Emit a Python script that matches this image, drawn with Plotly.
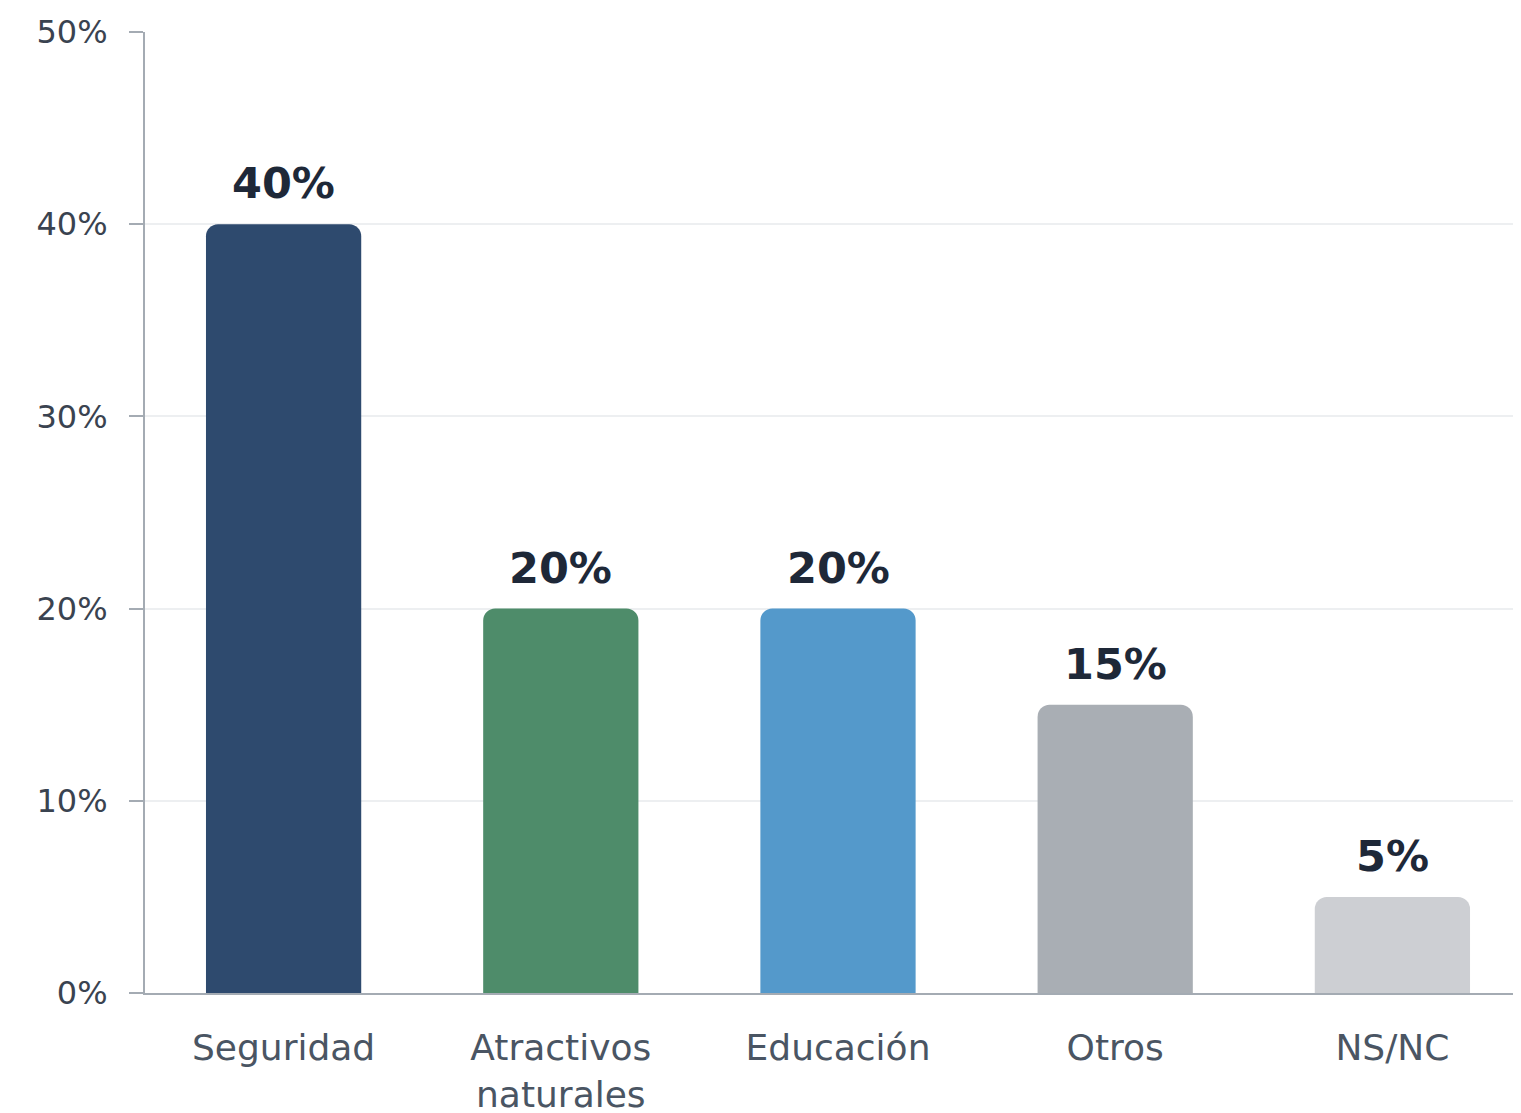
import plotly.graph_objects as go

categories = ["Seguridad", "Atractivos<br>naturales", "Educación", "Otros", "NS/NC"]
values = [40, 20, 20, 15, 5]
labels = ["40%", "20%", "20%", "15%", "5%"]
colors = ["#2E4A6E", "#4E8C6A", "#5499CB", "#A9AEB4", "#CDCFD3"]

y_ticks = [0, 10, 20, 30, 40, 50]
y_tick_text = ["0%", "10%", "20%", "30%", "40%", "50%"]

fig = go.Figure()

fig.add_trace(go.Bar(
    x=categories,
    y=values,
    marker=dict(color=colors, line=dict(width=0), cornerradius=12),
    width=0.56,
    hoverinfo="skip",
))

# value labels above bars
for cat, val, lab in zip(categories, values, labels):
    fig.add_annotation(
        x=cat, y=val, text="<b>" + lab + "</b>",
        showarrow=False, yanchor="bottom", yshift=14,
        font=dict(family="DejaVu Sans", size=43, color="#1E2838"),
    )

# page body has an 8px margin, so size/margins are trimmed by that
fig.update_layout(
    width=1523,
    height=1107,
    paper_bgcolor="white",
    plot_bgcolor="white",
    showlegend=False,
    margin=dict(l=137, r=0, t=24, b=122),
    xaxis=dict(
        showgrid=False,
        showline=True,
        linecolor="#A4ABB3",
        linewidth=2,
        ticks="",
        tickfont=dict(family="DejaVu Sans", size=36, color="#4A5563", weight=500),
        ticklabelstandoff=22,
        fixedrange=True,
    ),
    yaxis=dict(
        range=[0, 50],
        tickvals=y_ticks,
        ticktext=y_tick_text,
        showgrid=True,
        gridcolor="#EDEFF1",
        gridwidth=2,
        showline=True,
        linecolor="#A4ABB3",
        linewidth=2,
        ticks="outside",
        ticklen=14,
        tickwidth=2,
        tickcolor="#A4ABB3",
        tickfont=dict(family="DejaVu Sans", size=32, color="#3A4350"),
        ticklabelstandoff=15,
        zeroline=False,
        fixedrange=True,
    ),
)

fig.write_html("out.html")
